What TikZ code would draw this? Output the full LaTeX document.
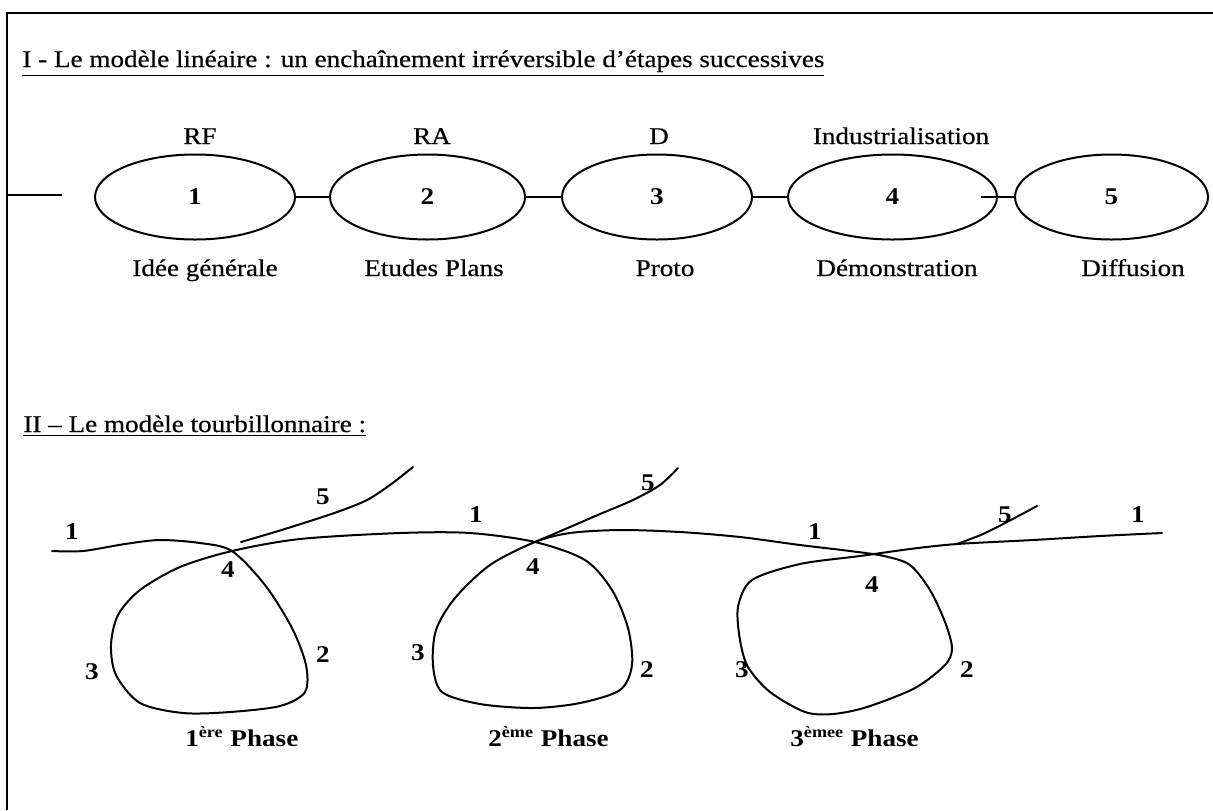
\documentclass[tikz,border=0pt]{standalone}
\usepackage{fontspec}
\setmainfont[FakeStretch=1.13, UprightFeatures={FakeBold=0.5}]{Liberation Serif}
\usetikzlibrary{shapes.geometric}
\newcommand{\txtsize}{\fontsize{12}{14.4}\selectfont}
\tikzset{
  stage/.style={draw=black, ellipse, line width=1pt, minimum height=42.5pt, inner sep=0pt, font=\txtsize\bfseries},
  caption/.style={inner sep=0pt, font=\txtsize},
  digit/.style={inner sep=0pt, font=\txtsize\bfseries},
  phase/.style={inner sep=0pt, font=\txtsize\bfseries},
  link/.style={line width=1pt},
  swirl/.style={line width=1pt, line join=round, line cap=round}
}

\begin{document}
\begin{tikzpicture}[x=0.5pt, y=-0.5pt]
\useasboundingbox (0,0) rectangle (1213,810);
% cadre
\draw[line width=1pt] (7,810) -- (7,13) -- (1213,13);

% I - modele lineaire
\node[caption, anchor=base west] (titre1) at (22,67) {\underline{I - Le modèle linéaire : un enchaînement irréversible d’étapes successives}};
\node[stage, minimum width=100pt] (e1) at (195,197) {1};
\node[stage, minimum width=97.5pt] (e2) at (427.5,197) {2};
\node[stage, minimum width=95pt] (e3) at (657,197) {3};
\node[stage, minimum width=104.5pt] (e4) at (892.5,197) {4};
\node[stage, minimum width=96.5pt] (e5) at (1111.5,197) {5};
\node[caption, anchor=base] (rf) at (200,144) {RF};
\node[caption, anchor=base] (ra) at (432,144) {RA};
\node[caption, anchor=base] (d) at (659,144) {D};
\node[caption, anchor=base] (indus) at (901,144) {Industrialisation};
\node[caption, anchor=base] (idee) at (205,276) {Idée générale};
\node[caption, anchor=base] (etudes) at (434,276) {Etudes Plans};
\node[caption, anchor=base] (proto) at (665,276) {Proto};
\node[caption, anchor=base] (demo) at (897,276) {Démonstration};
\node[caption, anchor=base] (diff) at (1133,276) {Diffusion};
\coordinate (g0) at (7,195);
\coordinate (g1) at (62,195);
\draw[link] (g0) -- (g1);
\draw[link] (e1) -- (e2);
\draw[link] (e2) -- (e3);
\draw[link] (e3) -- (e4);
\draw[link] ([xshift=-8.5pt]e4.east) -- (e5.west);

% II - modele tourbillonnaire
\node[caption, anchor=base west] (titre2) at (23,432) {\underline{II – Le modèle tourbillonnaire :}};
\draw[swirl] plot[smooth] coordinates {(52,551) (83,551) (125,544) (160,540) (200,543) (232,551)
  (265,585) (292,628) (306,665) (305,692) (280,706) (230,712) (183,713) (140,703) (116,675)
  (111,645) (118,615) (140,590) (180,567) (232,551)
  (300,539) (400,533) (470,533) (535,542)
  (585,560) (612,590) (628,628) (632,665) (620,690) (580,703) (533,708) (480,704) (442,692)
  (433,665) (436,630) (455,598) (490,565) (535,542)
  (570,533) (620,530) (680,532) (740,537) (800,545) (850,551) (884,556)
  (910,565) (930,590) (945,622) (952,648) (945,665) (915,688) (867,707) (833,714) (805,712)
  (770,692) (748,667) (740,640) (738,607) (752,580) (800,564) (860,556) (910,549)
  (957,544) (1033,540) (1100,536) (1162,533)};
\draw[swirl] plot[smooth] coordinates {(241,542) (275,532) (307,522) (340,511) (367,500) (390,485) (413,467)};
\draw[swirl] plot[smooth] coordinates {(535,542) (570,527) (600,514) (633,500) (660,485) (678,468)};
\draw[swirl] plot[smooth] coordinates {(957,544) (983,534) (1007,522) (1037,506)};

\node[digit] (a1) at (72,532) {1};
\node[digit] (a5) at (323,497) {5};
\node[digit] (a4) at (228,570) {4};
\node[digit] (a3) at (92,672) {3};
\node[digit] (a2) at (323,655) {2};
\node[digit] (b1) at (476,515) {1};
\node[digit] (b5) at (648,483) {5};
\node[digit] (b4) at (533,567) {4};
\node[digit] (b3) at (418,653) {3};
\node[digit] (b2) at (647,670) {2};
\node[digit] (c1) at (815,532) {1};
\node[digit] (c5) at (1005,515) {5};
\node[digit] (c0) at (1138,515) {1};
\node[digit] (c4) at (872,585) {4};
\node[digit] (c3) at (742,670) {3};
\node[digit] (c2) at (967,670) {2};
\node[phase, anchor=base west] (ph1) at (185,746) {1\textsuperscript{ère} Phase};
\node[phase, anchor=base west] (ph2) at (488,746) {2\textsuperscript{ème} Phase};
\node[phase, anchor=base west] (ph3) at (790,746) {3\textsuperscript{èmee} Phase};
\end{tikzpicture}
\end{document}
